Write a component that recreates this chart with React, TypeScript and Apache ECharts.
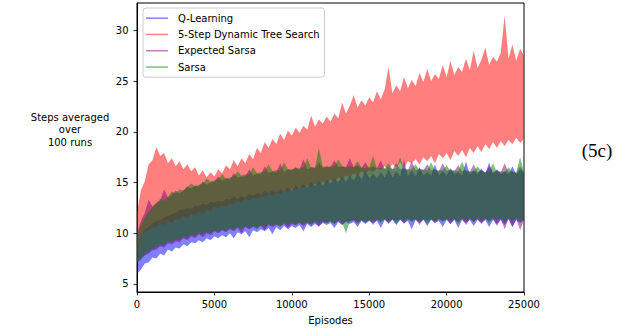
import React, { useEffect, useRef } from "react";
import * as echarts from "echarts";

// Episode sample positions (every 250 episodes, 0..25000)
const episodes: number[] = Array.from({ length: 101 }, (_, i) => i * 250);

const seriesNames = ["Q-Learning", "5-Step Dynamic Tree Search", "Expected Sarsa", "Sarsa"];
const xTicks = [0, 5000, 10000, 15000, 20000, 25000];
const yTicks = [5, 10, 15, 20, 25, 30];

// Envelopes (low / high) of each noisy curve
const qLow = [6.0, 6.4, 7.0, 7.1, 7.6, 7.5, 8.0, 7.8, 8.4, 8.2, 8.6, 8.5, 8.9, 8.7, 9.1, 9.0, 9.3, 9.1, 9.5, 9.3,
  9.7, 9.5, 9.8, 9.6, 10.0, 9.5, 10.1, 9.9, 10.2, 9.6, 10.3, 10.1, 10.4, 10.2, 10.5, 9.9, 10.6, 10.3, 10.7, 10.4,
  10.7, 10.5, 10.8, 10.2, 10.9, 10.6, 10.9, 10.7, 11.0, 10.8, 11.0, 10.5, 11.1, 10.8, 11.1, 10.9, 11.1, 10.6, 11.2, 10.9,
  11.2, 11.0, 11.2, 10.5, 11.3, 11.0, 11.3, 10.8, 11.3, 11.0, 11.2, 10.4, 11.3, 11.0, 11.3, 10.7, 11.3, 11.0, 11.2, 10.6,
  11.3, 10.9, 11.3, 10.5, 11.3, 11.0, 11.3, 10.7, 11.3, 11.0, 11.3, 10.6, 11.3, 10.9, 11.3, 10.8, 11.4, 10.6, 11.3, 11.0, 11.3];
const qHigh = [8.5, 9.8, 10.4, 10.6, 11.0, 11.2, 11.3, 11.6, 11.7, 11.9, 12.0, 12.3, 12.3, 12.5, 12.4, 12.7, 12.7, 12.9, 12.8, 13.1,
  13.0, 13.2, 13.1, 13.4, 13.3, 13.6, 13.4, 13.7, 13.5, 13.9, 13.7, 14.0, 13.8, 14.2, 13.9, 14.3, 14.0, 14.4, 14.1, 14.5,
  14.2, 14.7, 14.4, 14.9, 14.5, 15.0, 14.6, 15.2, 14.7, 15.3, 14.9, 15.4, 15.0, 15.6, 15.1, 15.7, 15.2, 15.9, 15.3, 16.2,
  15.4, 15.9, 15.4, 16.0, 15.5, 16.3, 15.5, 16.1, 15.6, 17.2, 15.6, 16.2, 15.6, 16.5, 15.7, 16.0, 15.7, 16.8, 15.7, 16.1,
  15.7, 16.4, 15.8, 16.0, 15.7, 17.1, 15.8, 16.2, 15.8, 16.4, 15.8, 17.0, 15.8, 16.3, 15.8, 16.1, 15.8, 16.6, 15.8, 16.3, 15.9];

const dtsLow = [8.0, 9.6, 10.1, 10.3, 10.6, 10.5, 10.9, 10.8, 11.2, 11.0, 11.4, 11.3, 11.7, 11.5, 11.9, 11.8, 12.1, 11.9, 12.3, 12.2,
  12.6, 12.4, 12.8, 12.6, 13.0, 12.8, 13.2, 13.0, 13.4, 13.2, 13.5, 13.4, 13.7, 13.5, 13.9, 13.7, 14.0, 13.8, 14.2, 14.0,
  14.4, 14.2, 14.5, 14.4, 14.7, 14.5, 14.9, 14.7, 15.1, 14.9, 15.3, 15.1, 15.5, 15.3, 15.7, 15.5, 15.9, 15.7, 16.1, 15.9,
  16.2, 16.0, 16.4, 16.2, 16.6, 16.3, 16.8, 16.5, 17.0, 16.4, 17.1, 16.9, 17.3, 16.8, 17.5, 17.1, 17.6, 16.9, 17.8, 17.4,
  17.9, 17.2, 18.1, 17.6, 18.2, 17.5, 18.4, 17.9, 18.6, 18.0, 18.8, 18.3, 19.0, 18.4, 19.1, 18.6, 19.2, 18.8, 19.4, 18.9, 19.3];
const dtsHigh = [12.0, 14.2, 15.1, 16.8, 17.2, 18.5, 17.6, 17.9, 16.9, 17.4, 16.6, 17.1, 16.3, 16.8, 16.1, 16.5, 15.7, 16.2, 15.5, 16.0,
  15.6, 16.3, 15.9, 16.7, 16.3, 17.2, 16.6, 17.4, 16.9, 17.8, 17.3, 18.4, 17.9, 19.0, 18.4, 19.3, 18.8, 19.8, 19.2, 20.1,
  19.6, 20.4, 19.9, 20.6, 20.2, 21.6, 20.5, 21.2, 20.8, 21.5, 21.0, 21.8, 21.3, 22.9, 21.8, 22.6, 23.6, 22.4, 23.1, 22.6,
  23.4, 22.9, 24.0, 23.2, 24.2, 26.4, 23.8, 24.6, 24.0, 25.4, 24.3, 25.1, 24.5, 25.8, 24.9, 26.2, 25.0, 25.7, 25.2, 26.6,
  25.4, 27.0, 25.6, 26.4, 25.9, 27.2, 26.1, 28.0, 26.3, 27.1, 28.3, 26.6, 27.4, 26.9, 27.8, 31.5, 27.2, 28.6, 27.0, 28.2, 27.5];

const esLow = [7.0, 7.4, 7.8, 8.0, 8.3, 8.4, 8.7, 8.6, 9.0, 8.9, 9.2, 9.1, 9.5, 9.3, 9.7, 9.5, 9.9, 9.6, 10.0, 9.8,
  10.2, 10.0, 10.3, 10.1, 10.4, 10.2, 10.5, 10.0, 10.6, 10.4, 10.6, 10.5, 10.7, 10.3, 10.8, 10.6, 10.8, 10.7, 10.9, 10.5,
  10.9, 10.8, 11.0, 10.7, 11.0, 10.9, 11.1, 10.6, 11.1, 11.0, 11.2, 10.9, 11.2, 10.8, 11.2, 11.1, 11.3, 10.9, 11.3, 11.1,
  11.3, 10.8, 11.3, 11.2, 11.4, 10.9, 11.4, 11.2, 11.4, 10.9, 11.4, 11.2, 11.4, 10.8, 11.4, 11.2, 11.4, 11.0, 11.4, 11.2,
  11.4, 10.9, 11.4, 11.1, 11.4, 10.8, 11.4, 11.1, 11.4, 10.9, 11.4, 11.2, 11.4, 10.7, 11.4, 10.4, 11.4, 10.6, 11.4, 10.3, 11.3];
const esHigh = [10.0, 11.2, 12.0, 13.3, 12.6, 13.0, 13.2, 14.3, 13.5, 13.8, 14.2, 13.9, 14.2, 14.6, 14.4, 14.7, 14.6, 15.1, 14.8, 15.0,
  15.1, 15.6, 15.2, 15.4, 15.3, 15.9, 15.5, 15.6, 15.6, 16.3, 15.7, 15.9, 15.8, 16.6, 15.9, 16.1, 16.0, 16.9, 16.0, 16.3,
  16.2, 16.5, 16.2, 17.3, 16.3, 16.5, 16.4, 17.0, 16.4, 16.6, 16.5, 17.2, 16.5, 16.6, 16.5, 17.4, 16.5, 16.7, 16.4, 17.0,
  16.4, 16.6, 16.4, 17.2, 16.3, 16.5, 16.3, 16.9, 16.3, 16.4, 16.2, 17.1, 16.2, 16.4, 16.2, 16.8, 16.2, 16.3, 16.1, 16.9,
  16.1, 16.3, 16.1, 16.7, 16.1, 16.2, 16.0, 16.8, 16.0, 16.2, 16.0, 16.6, 16.0, 16.2, 16.0, 16.9, 16.0, 16.1, 15.9, 16.6, 16.0];

const sarsaLow = [7.1, 7.5, 7.9, 8.2, 8.5, 8.6, 8.9, 8.8, 9.2, 9.1, 9.4, 9.3, 9.7, 9.5, 9.9, 9.7, 10.1, 9.8, 10.2, 10.0,
  10.3, 10.1, 10.4, 10.2, 10.5, 10.3, 10.6, 10.4, 10.7, 10.5, 10.7, 10.4, 10.8, 10.6, 10.9, 10.7, 10.9, 10.6, 11.0, 10.8,
  11.0, 10.8, 11.1, 10.9, 11.1, 10.7, 11.2, 11.0, 11.2, 11.0, 11.2, 10.9, 11.3, 11.1, 10.0, 11.2, 11.3, 11.1, 11.3, 11.0,
  11.3, 11.2, 11.4, 11.0, 11.4, 11.2, 11.4, 10.9, 11.4, 11.2, 11.4, 11.1, 11.4, 11.2, 11.4, 10.9, 11.4, 11.2, 11.4, 11.1,
  11.4, 11.2, 11.4, 10.9, 11.5, 11.2, 11.5, 11.1, 11.5, 11.2, 11.5, 11.0, 11.5, 11.3, 11.5, 11.1, 11.5, 11.2, 11.5, 11.1, 11.5];
const sarsaHigh = [9.6, 10.8, 11.6, 12.1, 12.6, 12.9, 13.4, 13.2, 13.6, 14.1, 13.9, 14.3, 14.2, 14.5, 14.9, 14.6, 14.8, 14.9, 15.4, 15.1,
  15.2, 15.3, 15.8, 15.4, 15.5, 15.6, 16.1, 15.7, 15.8, 15.8, 16.5, 15.9, 16.0, 16.1, 16.8, 16.1, 16.2, 16.2, 17.0, 16.3,
  16.3, 16.4, 16.4, 16.5, 17.4, 16.5, 16.5, 18.4, 16.6, 16.5, 16.6, 16.6, 17.3, 16.6, 16.5, 16.6, 16.5, 17.1, 16.5, 16.4,
  16.5, 17.6, 16.4, 16.4, 16.4, 16.9, 16.3, 16.4, 17.5, 16.3, 16.3, 16.3, 16.8, 16.2, 16.3, 16.2, 17.0, 16.2, 16.2, 16.2,
  16.7, 16.1, 16.2, 16.1, 17.1, 16.1, 16.1, 16.1, 16.6, 16.1, 16.0, 16.1, 16.9, 16.0, 16.1, 16.0, 16.5, 16.0, 16.0, 17.5, 16.0];

const FONT = "DejaVu Sans";

function band(name: string, low: number[], high: number[], color: string, legendColor: string) {
  return {
    name,
    type: "custom",
    silent: true,
    clip: true,
    itemStyle: { color: legendColor },
    data: episodes.map((e, i) => [e, low[i], high[i]]),
    encode: { x: 0, y: [1, 2] },
    renderItem: (params: any, api: any) => {
      if (params.dataIndex !== 0) return null;
      const pts: number[][] = [];
      for (let i = 0; i < episodes.length; i++) pts.push(api.coord([episodes[i], high[i]]));
      for (let i = episodes.length - 1; i >= 0; i--) pts.push(api.coord([episodes[i], low[i]]));
      return {
        type: "polygon",
        shape: { points: pts },
        style: { fill: color, opacity: 0.5, stroke: "none" },
      };
    },
  };
}

export default function App() {
  const ref = useRef<HTMLDivElement>(null);
  useEffect(() => {
    if (!ref.current) return;
    const chart = echarts.init(ref.current, undefined, { renderer: "svg" });
    const legendColors = ["#7f7fff", "#ff7f7f", "#bf7fbf", "#7fbf7f"];
    chart.setOption({
      animation: false,
      backgroundColor: "#ffffff",
      grid: {
        left: 137, right: 107, top: 3, bottom: 40,
        show: true, borderColor: "#000", borderWidth: 1, backgroundColor: "transparent",
      },
      legend: {
        data: seriesNames.map((n, i) => ({ name: n, itemStyle: { color: legendColors[i] } })),
        orient: "vertical",
        left: 143,
        top: 8,
        icon: "rect",
        itemWidth: 22,
        itemHeight: 1.5,
        itemGap: 0,
        padding: [2, 5, 2, 3],
        backgroundColor: "rgba(255,255,255,0.8)",
        borderColor: "#cccccc",
        borderWidth: 1,
        borderRadius: 3,
        selectedMode: false,
        textStyle: { fontFamily: FONT, fontSize: 10, color: "#000", lineHeight: 16.3, padding: [0, 0, 0, 5] },
      },
      xAxis: {
        type: "value",
        min: 0,
        max: 25000,
        interval: 5000,
        name: "Episodes",
        nameLocation: "middle",
        nameGap: 23,
        nameTextStyle: { fontFamily: FONT, fontSize: 10, color: "#000" },
        axisLine: { show: true, lineStyle: { color: "#000", width: 1 } },
        axisTick: { show: true, inside: false, length: 3.5, lineStyle: { color: "#000", width: 0.8 } },
        axisLabel: { fontFamily: FONT, fontSize: 10, color: "#000", margin: 7, formatter: (v: number) => String(v) },
        splitLine: { show: false },
      },
      yAxis: {
        type: "value",
        min: 4.2,
        max: 32.7,
        axisLine: { show: true, lineStyle: { color: "#000", width: 1 } },
        axisTick: { show: true, inside: false, length: 3.5, lineStyle: { color: "#000", width: 0.8 }, customValues: yTicks },
        axisLabel: { fontFamily: FONT, fontSize: 10, color: "#000", margin: 8.5, customValues: yTicks },
        splitLine: { show: false },
      },
      graphic: [
        {
          type: "text",
          x: 70,
          y: 129.5,
          style: {
            text: "Steps averaged\nover\n100 runs",
            fontFamily: FONT,
            fontSize: 10,
            lineHeight: 12.5,
            fill: "#000",
            align: "center",
            verticalAlign: "middle",
          },
        },
        {
          type: "text",
          x: 597,
          y: 150,
          style: {
            text: "(5c)",
            fontFamily: "Liberation Serif",
            fontSize: 19,
            fill: "#000",
            align: "center",
            verticalAlign: "middle",
          },
        },
      ],
      series: [
        band(seriesNames[0], qLow, qHigh, "#0000ff", legendColors[0]),
        band(seriesNames[1], dtsLow, dtsHigh, "#ff0000", legendColors[1]),
        band(seriesNames[2], esLow, esHigh, "#800080", legendColors[2]),
        band(seriesNames[3], sarsaLow, sarsaHigh, "#008000", legendColors[3]),
      ],
    });
    return () => chart.dispose();
  }, []);
  return (
    <div
      ref={ref}
      style={{ position: "fixed", left: 0, top: 0, width: 631, height: 332, background: "#fff" }}
    />
  );
}
